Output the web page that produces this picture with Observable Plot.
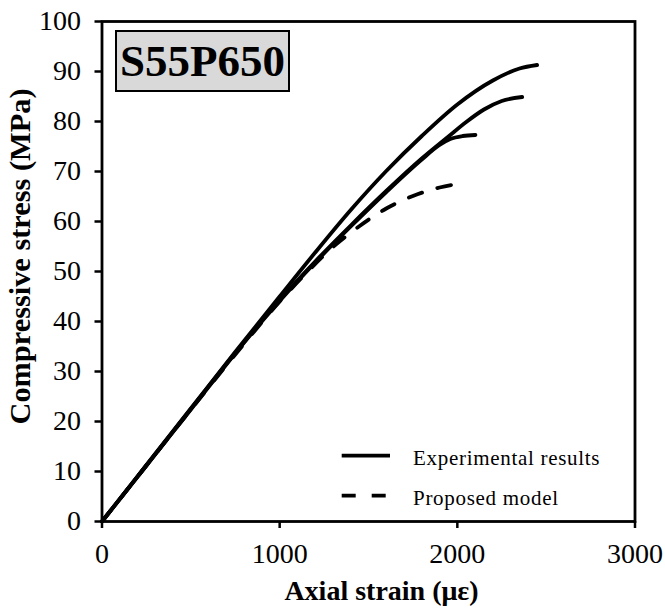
<!DOCTYPE html>
<html>
<head>
<meta charset="utf-8">
<script src="https://cdn.jsdelivr.net/npm/d3@7"></script>
<script src="https://cdn.jsdelivr.net/npm/@observablehq/plot@0.6"></script>
<style>
  html, body { margin: 0; padding: 0; background: #fff; }
  #wrap { position: relative; width: 665px; height: 615px; font-family: "Liberation Serif", "Times New Roman", serif; }
  #tag {
    position: absolute; left: 115px; top: 30px; width: 171px; height: 58px;
    background: #d9d9d9; border: 2.5px solid #000;
    font: bold 45px "Liberation Serif", serif; line-height: 58px; text-align: center;
  }
  #legend { position: absolute; left: 0; top: 0; pointer-events: none; }
</style>
</head>
<body>
<div id="wrap"></div>
<script>
// Specimen S55P650: three test curves and the model prediction
const specimen = "S55P650";

const strainA = [0, 250, 500, 750, 1000, 1200, 1400, 1600, 1800, 2000, 2200, 2350, 2449];
const stressA = [0, 11.3, 22.6, 33.9, 45.0, 53.8, 62.3, 70.1, 77.1, 83.4, 88.2, 90.6, 91.3];

const strainB = [0, 250, 500, 800, 1000, 1200, 1400, 1600, 1800, 1950, 2050, 2150, 2250, 2365];
const stressB = [0, 11.2, 22.5, 35.9, 44.3, 52.0, 59.2, 66.1, 72.6, 77.0, 79.9, 82.4, 84.1, 84.9];

const strainC = [0, 250, 500, 800, 1000, 1200, 1400, 1600, 1800, 1900, 1960, 2030, 2102];
const stressC = [0, 11.2, 22.4, 35.8, 44.1, 51.8, 59.0, 65.9, 72.4, 75.3, 76.5, 77.1, 77.3];

const strainModel = [0, 250, 500, 750, 1000, 1150, 1300, 1450, 1600, 1750, 1900, 2000];
const stressModel = [0, 11.2, 22.4, 33.4, 44.0, 49.7, 54.9, 59.1, 62.6, 65.1, 66.8, 67.5];

const xTicks = [0, 1000, 2000, 3000];
const yTicks = [0, 10, 20, 30, 40, 50, 60, 70, 80, 90, 100];

const xTitle = "Axial strain (με)";
const yTitle = "Compressive stress (MPa)";

const legendLabels = ["Experimental results", "Proposed model"];
const legendDash = [null, "14,16"];

const toRows = (xs, ys) => xs.map((x, i) => ({x, y: ys[i]}));
const tests = [toRows(strainA, stressA), toRows(strainB, stressB), toRows(strainC, stressC)];
const model = toRows(strainModel, stressModel);

const lineW = 3.8;
const serif = "Liberation Serif, Times New Roman, serif";

const chart = Plot.plot({
  width: 665,
  height: 615,
  marginLeft: 101.5,
  marginRight: 30.5,
  marginTop: 21,
  marginBottom: 94,
  style: {fontFamily: serif, fontSize: "28px", color: "#000", background: "#fff", overflow: "visible"},
  x: {domain: [0, 3000]},
  y: {domain: [0, 100]},
  marks: [
    Plot.frame({stroke: "#000", strokeWidth: 2.8}),
    Plot.axisX({ticks: xTicks, tickFormat: d => String(d), tickSize: 7, tickPadding: 15, strokeWidth: 2.5, label: null, fontSize: 28}),
    Plot.axisY({ticks: yTicks, tickFormat: d => String(d), tickSize: 7, tickPadding: 14, strokeWidth: 2.5, label: null, fontSize: 28}),
    ...tests.map(rows => Plot.line(rows, {x: "x", y: "y", stroke: "#000", strokeWidth: lineW, curve: "monotone-x"})),
    Plot.line(model, {x: "x", y: "y", stroke: "#000", strokeWidth: lineW, strokeDasharray: legendDash[1], curve: "monotone-x"}),
    Plot.text([xTitle], {frameAnchor: "bottom", dy: 78, dx: 13, fontWeight: "bold", fontSize: 28, fill: "#000"}),
    Plot.text([yTitle], {frameAnchor: "left", textAnchor: "middle", dx: -81, dy: -15, rotate: -90, fontWeight: "bold", fontSize: 29, fill: "#000"})
  ]
});

// the vertical title is a little wider-set than the font's natural length
d3.select(chart).selectAll("text")
  .filter(function() { return this.textContent === yTitle; })
  .attr("textLength", 336).attr("lengthAdjust", "spacingAndGlyphs");

const wrap = document.getElementById("wrap");
wrap.appendChild(chart);

const tag = document.createElement("div");
tag.id = "tag";
tag.textContent = specimen;
wrap.appendChild(tag);

// legend drawn over the lower-right corner of the plot area
const legend = d3.select(wrap).append("svg")
  .attr("id", "legend").attr("width", 665).attr("height", 615);
const rowsY = [455.7, 495.7];
legendLabels.forEach((label, i) => {
  legend.append("line")
    .attr("x1", 341.7).attr("x2", 390).attr("y1", rowsY[i]).attr("y2", rowsY[i])
    .attr("stroke", "#000").attr("stroke-width", lineW)
    .attr("stroke-dasharray", legendDash[i]);
  legend.append("text")
    .attr("x", 413).attr("y", rowsY[i] + 9)
    .attr("font-family", serif)
    .attr("font-size", 21).attr("letter-spacing", 0.7)
    .text(label);
});
</script>
</body>
</html>
